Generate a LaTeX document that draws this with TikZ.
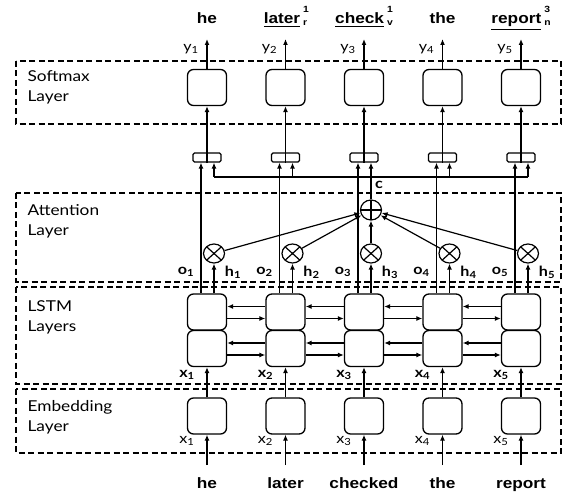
\documentclass[tikz,border=0pt]{standalone}
\usepackage{amsmath}
\usepackage{fontspec}
\newfontfamily\labfont{Lato}[FakeStretch=1.15]
\newfontfamily\wordfont{Liberation Sans}[FakeStretch=1.15]
\usetikzlibrary{arrows.meta, shapes.geometric, calc}

\newcommand{\tagged}[3]{\underline{#1}\hspace{3pt}\rlap{\raisebox{11pt}{\fontsize{9}{9}\selectfont #2}}\raisebox{-1.5pt}{\fontsize{9}{9}\selectfont #3}}

\tikzset{
  cell/.style={draw, rounded corners=6pt, minimum width=39pt, minimum height=36pt, inner sep=0pt, line width=1.3pt},
  cat/.style={draw, rounded corners=1.5pt, minimum width=28pt, minimum height=9pt, inner sep=0pt, line width=1.2pt},
  mul/.style={ellipse, draw, minimum width=21pt, minimum height=19pt, inner sep=0pt,
    path picture={\draw (path picture bounding box.north west) -- (path picture bounding box.south east)
      (path picture bounding box.north east) -- (path picture bounding box.south west);}},
  add/.style={ellipse, draw, minimum width=21pt, minimum height=20pt, inner sep=0pt,
    path picture={\draw (path picture bounding box.north) -- (path picture bounding box.south)
      (path picture bounding box.west) -- (path picture bounding box.east);}},
  layer/.style={draw, dash pattern=on 6pt off 3.5pt, line width=1.2pt},
  lab/.style={font={\labfont\fontsize{15}{20}\selectfont}, anchor=west, align=left, inner sep=0pt},
  sub/.style={font={\labfont\fontsize{14}{16}\selectfont}, inner sep=0pt},
  bsub/.style={font={\labfont\bfseries\fontsize{14}{16}\selectfont}, inner sep=0pt},
  word/.style={font={\wordfont\bfseries\fontsize{15}{18}\selectfont}, anchor=base, inner sep=0pt}
}

\begin{document}
\begin{tikzpicture}[x=1pt, y=-1pt, line width=1.2pt, >={Latex[length=6pt,width=5pt]}]
\useasboundingbox (0,0) rectangle (563,497);

% layers
\draw[layer] (16,61) rectangle (561,124);
\draw[layer] (16,193) rectangle (561,282);
\draw[layer] (16,287) rectangle (561,384);
\draw[layer] (16,389) rectangle (561,453);
\node[lab] (lsoft) at (27,87) {Softmax\\Layer};
\node[lab] (latt) at (27,221) {Attention\\Layer};
\node[lab] (llstm) at (27,317) {LSTM\\Layers};
\node[lab] (lemb) at (27,417.5) {Embedding\\Layer};

% columns
\foreach \i/\w/\v [evaluate=\i as \x using 207+78.5*(\i-1)] in
    {1/he/he,
     2/{\tagged{later}{1}{r}}/later,
     3/{\tagged{check}{1}{v}}/checked,
     4/the/the,
     5/{\tagged{report}{3}{n}}/report} {
  \node[word] (w\i) at (\x,24) {\w};
  \node[word] (in\i) at (\x,488) {\v};
  \node[cell] (sm\i) at (\x,87.5) {};
  \node[cat] (cat\i) at (\x,157.5) {};
  \node[mul] (m\i) at (\x+7,253.5) {};
  \node[cell] (fu\i) at (\x,312) {};
  \node[cell] (fl\i) at (\x,348.5) {};
  \node[cell] (emb\i) at (\x,416) {};
  \coordinate (out\i) at (\x,39);
  \coordinate (src\i) at (\x,465);
  \coordinate (bus\i) at (\x+7,177);
  \node[sub] (ylab\i) at (\x-16,49) {y\textsubscript{\i}};
  \node[bsub] (olab\i) at (\x-21,272) {o\textsubscript{\i}};
  \node[bsub] (hlab\i) at (\x+26,272) {h\textsubscript{\i}};
  \node[bsub] (xlab\i) at (\x-20,375) {x\textsubscript{\i}};
  \node[sub] (elab\i) at (\x-20,441) {x\textsubscript{\i}};
}
\node[add] (sum) at (m3 |- 0,210) {};
\node[bsub] (clab) at (379,185) {c};

% connectors
\foreach \i in {1,...,5} {
  \draw[->] (src\i) -- (emb\i);
  \draw[->] (emb\i) -- (fl\i);
  \draw[->] ([xshift=-6pt]fu\i.north) -- ([xshift=-6pt]cat\i.south);
  \draw[->] ([xshift=7pt]fu\i.north) -- (m\i);
  \draw[->] (m\i) -- (sum);
  \draw[->] (bus\i) -- (bus\i |- cat\i.south);
  \draw (cat\i.north) -- (cat\i.south);
  \draw[->] (cat\i) -- (sm\i);
  \draw[->] (sm\i) -- (out\i);
}
\draw (bus1) -- (bus5);
\draw (sum) -- (sum |- bus1);

\foreach \i/\j in {1/2,2/3,3/4,4/5} {
  \draw[->] ([yshift=5.5pt]fu\j.west) -- ([yshift=5.5pt]fu\i.east);
  \draw[->] ([yshift=-6.5pt]fu\i.east) -- ([yshift=-6.5pt]fu\j.west);
  \draw[->] ([yshift=5.5pt]fl\j.west) -- ([yshift=5.5pt]fl\i.east);
  \draw[->] ([yshift=-6.5pt]fl\i.east) -- ([yshift=-6.5pt]fl\j.west);
}
\end{tikzpicture}
\end{document}
